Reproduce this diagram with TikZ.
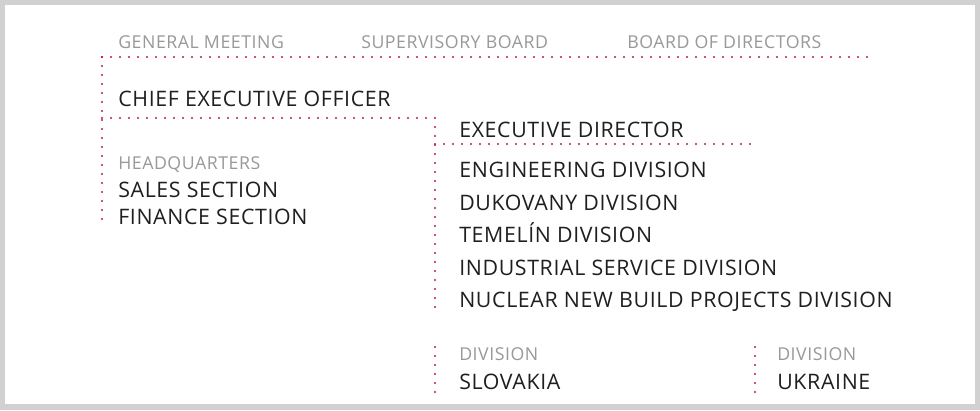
\documentclass[tikz,border=0pt]{standalone}
\usepackage{fontspec}
\setmainfont{Open Sans}[LetterSpace=3]
\usetikzlibrary{positioning}
\definecolor{framegray}{rgb}{.82,.82,.82}
\definecolor{dotred}{rgb}{.74,.10,.30}
\definecolor{inkgray}{rgb}{.60,.60,.60}
\definecolor{inkdark}{rgb}{.12,.12,.12}

\begin{document}
\begin{tikzpicture}[x=0.75pt,y=-0.75pt,
    heading/.style={inner sep=0pt,anchor=base west,text=inkgray,font=\fontsize{13.3}{16}\selectfont},
    unit/.style={inner sep=0pt,anchor=base west,text=inkdark,font=\fontsize{16}{19}\selectfont},
    dots/.style={draw=dotred,line width=1.8pt,line cap=round,dash pattern=on 0pt off 6.75pt},
  ]

  % frame
  \fill[framegray] (0,0) rectangle (980,410);
  \fill[white] (5,5) rectangle (975,404);

  % governing bodies
  \node[heading] (gm)  at (118,48.5) {GENERAL MEETING};
  \node[heading] (sb)  at (361,48.5) {SUPERVISORY BOARD};
  \node[heading] (bod) at (627,48.5) {BOARD OF DIRECTORS};

  \node[unit] (ceo) at (118,106) {CHIEF EXECUTIVE OFFICER};

  % headquarters
  \node[heading] (hq)      at (118,169.5) {HEADQUARTERS};
  \node[unit]    (sales)   [below=21pt of hq.base west, anchor=base west]      {SALES SECTION};
  \node[unit]    (finance) [below=20.25pt of sales.base west, anchor=base west] {FINANCE SECTION};

  % executive director and divisions
  \node[unit] (ed)       at (459,137) {EXECUTIVE DIRECTOR};
  \node[unit] (eng)      at (459,177.5) {ENGINEERING DIVISION};
  \node[unit] (dukovany) [below=24.4pt of eng.base west, anchor=base west]      {DUKOVANY DIVISION};
  \node[unit] (temelin)  [below=24.4pt of dukovany.base west, anchor=base west] {TEMELÍN DIVISION};
  \node[unit] (isd)      [below=24.4pt of temelin.base west, anchor=base west]  {INDUSTRIAL SERVICE DIVISION};
  \node[unit] (nnb)      [below=24.4pt of isd.base west, anchor=base west]      {NUCLEAR NEW BUILD PROJECTS DIVISION};

  % foreign divisions
  \node[heading] (divsk)    at (459,360.5) {DIVISION};
  \node[unit]    (slovakia) [below=21.75pt of divsk.base west, anchor=base west] {SLOVAKIA};
  \node[heading] (divua)    at (777,360.5) {DIVISION};
  \node[unit]    (ukraine)  [below=21.75pt of divua.base west, anchor=base west] {UKRAINE};

  % dotted guides
  \coordinate (topL) at (102,57);
  \coordinate (topR) at (875,57);
  \coordinate (hqB)  at (102,222);
  \coordinate (ceoL) at (102,118);
  \coordinate (ceoR) at (435,118);
  \coordinate (divB) at (435,308);
  \coordinate (edL)  at (435,144);
  \coordinate (edR)  at (755,144);
  \coordinate (skT)  at (435,347);
  \coordinate (skB)  at (435,393);
  \coordinate (uaT)  at (755,347);
  \coordinate (uaB)  at (755,393);

  \draw[dots] (topL) -- (topR);
  \draw[dots] (topL) -- (hqB);
  \draw[dots] (ceoL) -- (ceoR);
  \draw[dots] (ceoR) -- (divB);
  \draw[dots] (edL)  -- (edR);
  \draw[dots] (skT)  -- (skB);
  \draw[dots] (uaT)  -- (uaB);
\end{tikzpicture}
\end{document}
